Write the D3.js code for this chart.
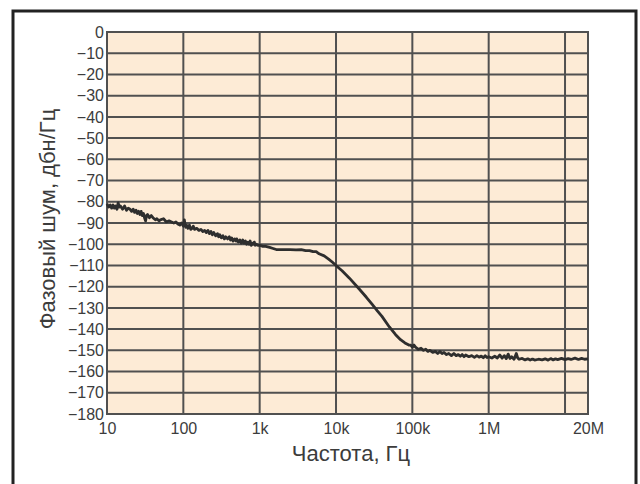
<!DOCTYPE html>
<html>
<head>
<meta charset="utf-8">
<script src="https://cdn.jsdelivr.net/npm/d3@7.9.0/dist/d3.min.js"></script>
<style>
  body { margin: 0; background: #fff; }
  svg { display: block; font-family: "Liberation Sans", Arial, sans-serif; }
</style>
</head>
<body>
<svg id="chart" width="640" height="484"></svg>
<script>
const width = 640;
const height = 484;
const margin = { top: 32, right: 52, bottom: 70, left: 107 };

// frequency (Hz) and phase noise (dBc/Hz)
const freqs = [10, 10.5, 11, 11.5, 12, 12.5, 13, 13.5, 14, 14.5, 15, 16, 17, 18, 19, 20, 21, 22, 23, 24,
  25, 26, 27, 28, 29, 30, 31, 32, 33, 34, 36, 38, 40, 43, 45, 48, 50, 55, 60, 65, 70, 75, 80, 85, 90, 95,
  100, 103, 105, 108, 110, 115, 120, 125, 130, 135, 140, 150, 160, 170, 180, 190, 200, 210, 220, 230,
  240, 250, 265, 280, 290, 300, 315, 330, 345, 360, 380, 400, 415, 430, 450, 470, 490, 500, 525, 550,
  575, 600, 625, 650, 675, 700, 725, 750, 775, 800, 825, 850, 875, 900, 950, 1000, 1100, 1200,
  1350, 1500, 1650, 1800, 2000, 2500, 3000, 3500, 4000, 4500, 5000, 5500, 6000, 7000, 8000, 9000, 10000,
  12000, 15000, 20000, 25000, 30000, 35000, 40000, 50000, 60000, 70000, 80000, 90000, 95000, 100000,
  105000, 110000, 120000, 130000, 140000, 150000, 160000, 170000, 185000, 200000, 215000, 230000,
  245000, 260000, 280000, 300000, 325000, 350000, 375000, 400000, 425000, 450000, 475000,
  500000, 550000, 600000, 650000, 700000, 750000, 800000, 850000, 900000, 950000, 1000000, 1100000,
  1200000, 1300000, 1400000, 1500000, 1600000, 1700000, 1800000, 1900000, 2000000, 2150000, 2300000,
  2400000, 2500000, 2750000, 3000000, 3250000, 3500000, 3750000, 4000000, 4500000, 5000000, 5500000,
  6000000, 6500000, 7000000, 7500000, 8000000, 9000000, 10000000, 11000000, 12000000, 13500000,
  15000000, 16500000, 18000000, 20000000];
const noise = [-81, -82.5, -81.5, -83, -81.5, -83, -82, -83.5, -80.5, -82.5, -82, -83.5, -82, -84, -83, -83.5, -84.5, -83.5, -85, -84,
  -85.5, -84.5, -86, -84.5, -86.5, -85.5, -87.5, -89, -86.5, -86, -87.5, -86.5, -87.5, -88.5, -88, -89, -88.5, -88, -89.5, -89, -89.5, -90, -89.5, -90.5, -91, -90,
  -91.5, -88.5, -90.5, -92, -91, -92.5, -91, -93, -92.5, -91.5, -93, -92.5, -93.5, -93, -94, -93.5, -94.5, -93.5, -95, -94,
  -95.5, -94.5, -96, -95, -96.5, -95.5, -97, -96, -97.5, -96.5, -97.5, -96.5, -98, -97, -98.5, -97.5, -98.5, -97.5, -99, -98,
  -99.5, -98, -99.5, -98.5, -100, -99, -100, -98.5, -100.5, -99.5, -100, -99, -100.5, -100, -100.5, -100.5, -101, -101,
  -101.5, -102, -102.5, -102.5, -102.5, -102.5, -102.7, -102.5, -103, -103, -103.5, -103.5, -104.5, -105.5, -107, -108.5, -110,
  -112.5, -116, -121, -125, -128.5, -131.5, -134, -139, -142.5, -145, -146.5, -147.5, -147.5, -148.5,
  -147.5, -148.5, -149.5, -149, -150, -149.5, -150.5, -150, -151, -150.5, -151.5, -150.5,
  -151.5, -151, -152, -151.5, -152.5, -151.5, -152.5, -152, -152.8, -152, -153,
  -152.2, -153, -152.5, -153.3, -152.5, -153.2, -152.7, -153.5, -152.6, -153.4, -153, -153.6,
  -152.8, -153.6, -152.2, -153.7, -152.5, -153.9, -151.8, -153.8, -153, -154.2, -151.5,
  -153.6, -154.2, -153.8, -154.5, -154, -154.6, -154.1, -154.6, -154.2, -154.5, -154,
  -154.6, -153.9, -154.5, -154, -154.4, -153.8, -154.4, -153.9, -154.3, -153.7,
  -154.3, -153.8, -154.2, -154];

const xTicks = [10, 100, 1e3, 1e4, 1e5, 1e6, 2e7];
const xTickLabels = ["10", "100", "1k", "10k", "100k", "1M", "20M"];
const xGrid = [100, 1e3, 1e4, 1e5, 1e6, 1e7];
const yTicks = d3.range(0, -181, -10);

const svg = d3.select("#chart");

// outer frame
svg.append("rect")
  .attr("x", 13).attr("y", 11)
  .attr("width", 623).attr("height", 490)
  .attr("fill", "#fff")
  .attr("stroke", "#222")
  .attr("stroke-width", 3);

const x = d3.scaleLog()
  .domain([10, 2e7])
  .range([margin.left, width - margin.right]);

const y = d3.scaleLinear()
  .domain([0, -180])
  .range([margin.top, height - margin.bottom]);

// plot background
svg.append("rect")
  .attr("x", x.range()[0]).attr("y", y.range()[0])
  .attr("width", x.range()[1] - x.range()[0])
  .attr("height", y.range()[1] - y.range()[0])
  .attr("fill", "#fdebd6");

// grid
svg.append("g")
  .selectAll("line.h")
  .data(yTicks)
  .join("line")
  .attr("x1", x.range()[0]).attr("x2", x.range()[1])
  .attr("y1", d => y(d)).attr("y2", d => y(d))
  .attr("stroke", "#505050")
  .attr("stroke-width", 2);

svg.append("g")
  .selectAll("line.v")
  .data(xGrid)
  .join("line")
  .attr("x1", d => x(d)).attr("x2", d => x(d))
  .attr("y1", y.range()[0]).attr("y2", y.range()[1])
  .attr("stroke", "#505050")
  .attr("stroke-width", 2);

// plot frame
svg.append("rect")
  .attr("x", x.range()[0]).attr("y", y.range()[0])
  .attr("width", x.range()[1] - x.range()[0])
  .attr("height", y.range()[1] - y.range()[0])
  .attr("fill", "none")
  .attr("stroke", "#505050")
  .attr("stroke-width", 2);

// axes (labels only)
const xAxis = svg.append("g")
  .attr("transform", `translate(0, ${y.range()[1]})`)
  .call(d3.axisBottom(x).tickValues(xTicks).tickFormat((d, i) => xTickLabels[i]).tickSize(0).tickPadding(9));
xAxis.select(".domain").remove();
xAxis.selectAll("text")
  .attr("font-size", 16)
  .attr("font-family", "Liberation Sans, Arial, sans-serif")
  .attr("fill", "#3c3c3c");

const yAxis = svg.append("g")
  .attr("transform", `translate(${x.range()[0]}, 0)`)
  .call(d3.axisLeft(y).tickValues(yTicks).tickFormat(d => d === 0 ? "0" : "\u2212" + Math.abs(d)).tickSize(0).tickPadding(3));
yAxis.select(".domain").remove();
yAxis.selectAll("text")
  .attr("font-size", 16)
  .attr("font-family", "Liberation Sans, Arial, sans-serif")
  .attr("fill", "#3c3c3c");

// the curve
const line = d3.line()
  .x((d, i) => x(freqs[i]))
  .y(d => y(d));

svg.append("path")
  .datum(noise)
  .attr("d", line)
  .attr("fill", "none")
  .attr("stroke", "#2e2e2e")
  .attr("stroke-width", 2.8)
  .attr("stroke-linejoin", "round");

// titles
svg.append("text")
  .attr("x", 351)
  .attr("y", 461)
  .attr("text-anchor", "middle")
  .attr("font-size", 22)
  .attr("fill", "#3c3c3c")
  .text("Частота, Гц");

svg.append("text")
  .attr("transform", `translate(55, ${(y.range()[0] + y.range()[1]) / 2 - 4}) rotate(-90)`)
  .attr("text-anchor", "middle")
  .attr("font-size", 22)
  .attr("fill", "#3c3c3c")
  .text("Фазовый шум, дбн/Гц");
</script>
</body>
</html>
